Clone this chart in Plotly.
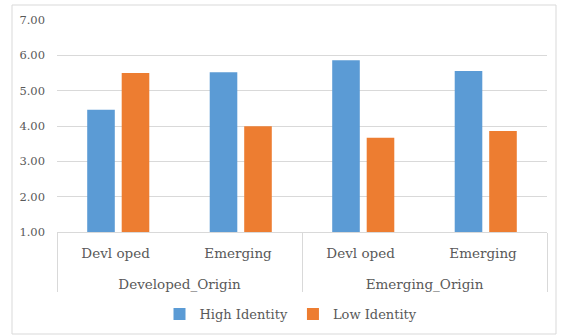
import plotly.graph_objects as go

origin = ["Developed_Origin", "Developed_Origin", "Emerging_Origin", "Emerging_Origin"]
market = ["Devl oped", "Emerging", "Devl oped", "Emerging"]
high_identity = [4.46, 5.52, 5.86, 5.56]
low_identity = [5.50, 3.99, 3.67, 3.86]
series_names = ["High Identity", "Low Identity"]
colors = ["#5B9BD5", "#ED7D31"]

W, H = 563, 335
L, R, T, B = 57, 16, 20, 103
pw = W - L - R
ph = H - T - B

font_family = "DejaVu Serif"
text_color = "#595959"
grid_color = "#D9D9D9"

# tick label text built from the data (line break / spacer push the outer level lower)
outer_labels = ["<br>" + o for o in origin]
inner_labels = [m + "<span style='font-size:17px'> </span>" for m in market]

fig = go.Figure()
for name, vals, col in zip(series_names, [high_identity, low_identity], colors):
    fig.add_trace(go.Bar(x=[outer_labels, inner_labels], y=vals, name=name,
                         marker=dict(color=col, line=dict(width=0))))

def px_x(p):
    return (p - L) / pw

def px_y(p):
    return (H - B - p) / ph

fig.add_shape(type="rect", xref="paper", yref="paper",
              x0=px_x(12), x1=px_x(556), y0=px_y(334), y1=px_y(5),
              line=dict(color=grid_color, width=1), fillcolor="rgba(0,0,0,0)",
              layer="below")

fig.update_layout(
    width=W, height=H,
    margin=dict(l=L, r=R, t=T, b=B, pad=0, autoexpand=False),
    paper_bgcolor="white", plot_bgcolor="white",
    barmode="group", bargap=0.437, bargroupgap=0.2,
    font=dict(family=font_family, color=text_color, size=13),
    showlegend=True,
    legend=dict(orientation="h", x=px_x(291), xanchor="center",
                y=px_y(314), yanchor="middle",
                font=dict(size=13, color=text_color, family=font_family),
                itemwidth=30, tracegroupgap=0, bgcolor="rgba(0,0,0,0)"),
    xaxis=dict(type="multicategory", showline=True, linecolor=grid_color, linewidth=1,
               showdividers=True, dividercolor=grid_color, dividerwidth=1,
               tickfont=dict(size=13.5, color=text_color, family=font_family),
               ticks="", ticklabelstandoff=9, automargin=False,
               showgrid=False, zeroline=False),
    yaxis=dict(range=[1, 7], dtick=1, tick0=1, tickformat=".2f",
               showgrid=True, gridcolor=grid_color, gridwidth=1,
               zeroline=False, showline=False, ticks="", automargin=False,
               tickfont=dict(size=11.5, color=text_color, family=font_family),
               ticklabelstandoff=11),
)

fig.write_html("out.html")
